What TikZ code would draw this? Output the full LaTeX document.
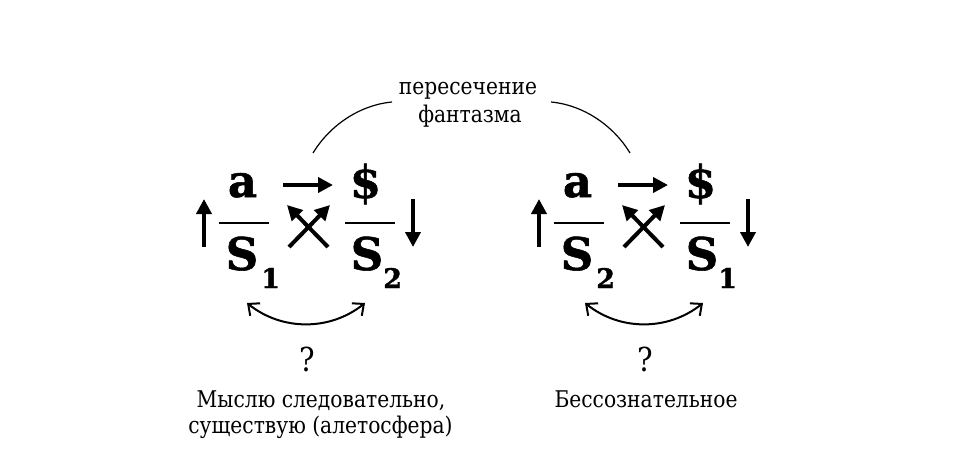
\documentclass[tikz,border=0pt]{standalone}
\usepackage{fontspec}
\setmainfont{DejaVu Serif}[FakeStretch=0.88]
\newfontfamily\formfont{DejaVu Serif Bold}[FakeBold=1.2]
\usetikzlibrary{arrows.meta}
\newcommand\lacanform[4]{%
\begin{scope}[xshift=#2pt]
  \node[big] (#1a) at (242.5,197) {a};
  \node[big] (#1S) at (242,270) {S};
  \node[sub] (#1s) at (261,288) {#3};
  \node[big,anchor=center] (#1d) at (365.5,184) {\$};
  \node[big] (#1T) at (367,270) {S};
  \node[sub] (#1t) at (383,288) {#4};
  \coordinate (#1b1) at (219,223); \coordinate (#1b2) at (269,223);
  \coordinate (#1c1) at (345,223); \coordinate (#1c2) at (395,223);
  \coordinate (#1u1) at (204,247); \coordinate (#1u2) at (204,199);
  \coordinate (#1r1) at (283,185); \coordinate (#1r2) at (333,185);
  \coordinate (#1w1) at (413,199); \coordinate (#1w2) at (413,247);
  \coordinate (#1x1) at (328,247); \coordinate (#1x2) at (287,205);
  \coordinate (#1y1) at (289,247); \coordinate (#1y2) at (330,205);
  \draw[barline] (#1b1) -- (#1b2);
  \draw[barline] (#1c1) -- (#1c2);
  \draw[fatarrow] (#1u1) -- (#1u2);
  \draw[fatarrow] (#1r1) -- (#1r2);
  \draw[fatarrow] (#1w1) -- (#1w2);
  \draw[fatarrow] (#1x1) -- (#1x2);
  \draw[fatarrow] (#1y1) -- (#1y2);
\end{scope}}
\begin{document}
\begin{tikzpicture}[x=1pt,y=-1pt,
  lbl/.style={font=\fontsize{23}{26}\selectfont, inner sep=0pt, anchor=base},
  qm/.style={font=\fontsize{33}{36}\selectfont, inner sep=0pt, anchor=base},
  big/.style={font=\fontsize{45}{48}\selectfont\formfont, inner sep=0pt, anchor=base},
  sub/.style={font=\fontsize{27}{30}\selectfont\formfont, inner sep=0pt, anchor=base west},
  fatarrow/.style={line width=4pt, -{Triangle[length=15pt,width=15pt]}},
  barline/.style={line width=2.2pt},
  swaparrow/.style={line width=2pt, {Straight Barb[length=9pt,width=16pt]}-{Straight Barb[length=9pt,width=16pt]}},
  thinarc/.style={line width=1.2pt}
]
\useasboundingbox (0,0) rectangle (971,476);
\lacanform{L}{0}{1}{2}
\lacanform{R}{335}{2}{1}
% top label and arc
\node[lbl] (top1) at (468,95) {пересечение};
\node[lbl] (top2) at (470,122) {фантазма};
\coordinate (al1) at (313,153); \coordinate (al2) at (392,102);
\coordinate (ar1) at (551,102); \coordinate (ar2) at (630,153);
\draw[thinarc] (al1) .. controls (330,125) and (360,105) .. (al2);
\draw[thinarc] (ar1) .. controls (583,105) and (613,125) .. (ar2);
% bottom swap arrows
\coordinate (sl1) at (247,303); \coordinate (sl2) at (365,303);
\draw[swaparrow] (sl1) .. controls (282,331) and (330,331) .. (sl2);
\coordinate (sr1) at (585,303); \coordinate (sr2) at (703,303);
\draw[swaparrow] (sr1) .. controls (620,331) and (668,331) .. (sr2);
% questions and captions
\node[qm] (qL) at (307,371) {?};
\node[qm] (qR) at (645,371) {?};
\node[lbl] (capL1) at (321,407) {Мыслю следовательно,};
\node[lbl] (capL2) at (320.5,433) {существую (алетосфера)};
\node[lbl] (capR) at (646,407) {Бессознательное};
\end{tikzpicture}
\end{document}
